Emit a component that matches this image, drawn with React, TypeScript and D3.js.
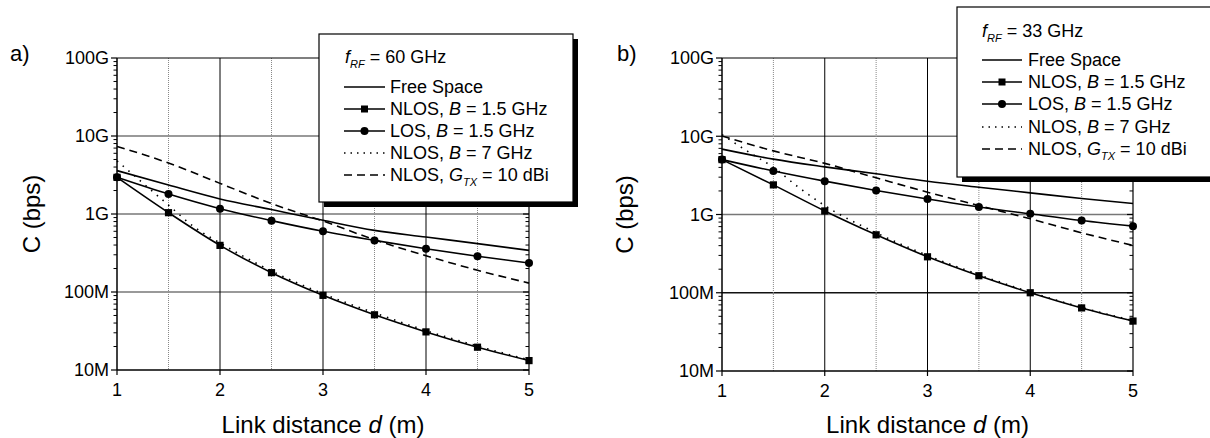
import React from "react";
import * as d3 from "d3";

// ---------- DATA ----------
const distances = [1, 1.5, 2, 2.5, 3, 3.5, 4, 4.5, 5];
const denseDistances = [1, 1.25, 1.5, 1.75, 2, 2.5, 3, 3.5, 4, 4.5, 5];
const xTicks = [1, 2, 3, 4, 5];
const xMinorTicks = [1.5, 2.5, 3.5, 4.5];
const yTicks = [1e7, 1e8, 1e9, 1e10, 1e11];
const yTickLabels = ["10M", "100M", "1G", "10G", "100G"];

// Panel a) fRF = 60 GHz
const freeSpaceA = [3.6e9, 2.35e9, 1.56e9, 1.14e9, 0.83e9, 0.617e9, 0.507e9, 0.417e9, 0.342e9];
const nlosA = [2.95e9, 1.04e9, 0.396e9, 0.177e9, 0.0906e9, 0.051e9, 0.0308e9, 0.0196e9, 0.0132e9];
const losA = [2.95e9, 1.8e9, 1.17e9, 0.822e9, 0.6e9, 0.459e9, 0.359e9, 0.287e9, 0.235e9];
const nlos7A = [4.8e9, 2.5e9, 1.3e9, 0.68e9, 0.425e9, 0.186e9, 0.095e9, 0.054e9, 0.032e9, 0.0203e9, 0.0135e9];
const nlosGtxA = [7.35e9, 4.5e9, 2.47e9, 1.36e9, 0.813e9, 0.468e9, 0.292e9, 0.19e9, 0.13e9];

// Panel b) fRF = 33 GHz
const freeSpaceB = [6.85e9, 5.1e9, 4.06e9, 3.31e9, 2.66e9, 2.23e9, 1.89e9, 1.6e9, 1.38e9];
const nlosB = [5.03e9, 2.39e9, 1.11e9, 0.55e9, 0.288e9, 0.165e9, 0.1e9, 0.064e9, 0.0435e9];
const losB = [5.03e9, 3.6e9, 2.67e9, 2.03e9, 1.58e9, 1.25e9, 1.02e9, 0.838e9, 0.71e9];
const nlos7B = [10.5e9, 6.4e9, 4.0e9, 2.2e9, 1.3e9, 0.584e9, 0.3e9, 0.17e9, 0.102e9, 0.065e9, 0.044e9];
const nlosGtxB = [10.1e9, 6.5e9, 4.5e9, 2.94e9, 1.93e9, 1.3e9, 0.88e9, 0.584e9, 0.402e9];

const FONT = "'Liberation Sans', Arial, Helvetica, sans-serif";

type PanelProps = {
  label: string;
  freq: string;
  left: number; right: number; top: number; bottom: number;
  free: number[]; nlos: number[]; los: number[]; nlos7: number[]; gtx: number[];
  legend: { x: number; y: number; w: number; h: number; tx: number; ty: number; lx1: number; lx2: number; textX: number; rows: number[] };
  labelX: number; yTitleX: number; hundredMBlack: boolean;
};

function Panel(p: PanelProps) {
  const x = d3.scaleLinear().domain([1, 5]).range([p.left, p.right]);
  const y = d3.scaleLog().domain([1e7, 1e11]).range([p.bottom, p.top]);
  const line = d3.line<[number, number]>().x(d => x(d[0])).y(d => y(d[1])).curve(d3.curveMonotoneX);
  const pts = (xs: number[], vs: number[]) => xs.map((d, i) => [d, vs[i]] as [number, number]);

  const minorY: number[] = [];
  for (let e = 7; e < 11; e++) for (let m = 2; m <= 9; m++) minorY.push(m * Math.pow(10, e));

  const L = p.legend;
  const sampleMid = (L.lx1 + L.lx2) / 2;
  return (
    <g fontFamily={FONT} fill="#000">
      {/* horizontal grid */}
      {yTicks.slice(1, 4).map((t, i) => (
        <line key={"hg" + i} x1={p.left} x2={p.right} y1={y(t)} y2={y(t)}
          stroke={p.hundredMBlack && t === 1e8 ? "#111" : "#777"} strokeWidth={1.3} />
      ))}
      {/* vertical grid */}
      {xMinorTicks.map((t, i) => (
        <line key={"vm" + i} x1={x(t)} x2={x(t)} y1={p.top} y2={p.bottom} stroke="#888" strokeWidth={1} strokeDasharray="1,1" />
      ))}
      {xTicks.slice(1, 4).map((t, i) => (
        <line key={"vg" + i} x1={x(t)} x2={x(t)} y1={p.top} y2={p.bottom} stroke="#000" strokeWidth={1} />
      ))}
      {/* frame */}
      <line x1={p.left} x2={p.right} y1={p.top} y2={p.top} stroke="#000" strokeWidth={1.2} />
      <line x1={p.right} x2={p.right} y1={p.top} y2={p.bottom} stroke="#000" strokeWidth={1.2} />
      <line x1={p.left} x2={p.left} y1={p.top} y2={p.bottom} stroke="#000" strokeWidth={1.5} />
      <line x1={p.left} x2={p.right} y1={p.bottom} y2={p.bottom} stroke="#000" strokeWidth={1.5} />
      {/* y ticks */}
      {yTicks.map((t, i) => (
        <g key={"yt" + i}>
          <line x1={p.left - 6} x2={p.left} y1={y(t)} y2={y(t)} stroke="#000" strokeWidth={1.2} />
          <line x1={p.right - 6} x2={p.right} y1={y(t)} y2={y(t)} stroke="#000" strokeWidth={1.2} />
          <text x={p.left - 8} y={y(t)} dy="0.36em" textAnchor="end" fontSize={18}>{yTickLabels[i]}</text>
        </g>
      ))}
      {minorY.map((t, i) => (
        <g key={"ym" + i}>
          <line x1={p.left - 3.5} x2={p.left} y1={y(t)} y2={y(t)} stroke="#000" strokeWidth={1} />
          <line x1={p.right - 3.5} x2={p.right} y1={y(t)} y2={y(t)} stroke="#000" strokeWidth={1} />
        </g>
      ))}
      {/* x ticks */}
      {xTicks.map((t, i) => (
        <g key={"xt" + i}>
          <line x1={x(t)} x2={x(t)} y1={p.bottom} y2={p.bottom + 5} stroke="#000" strokeWidth={1.2} />
          <text x={x(t)} y={p.bottom + 26} textAnchor="middle" fontSize={18}>{t}</text>
        </g>
      ))}
      {/* axis titles */}
      <text x={(p.left + p.right) / 2} y={433} textAnchor="middle" fontSize={24}>
        Link distance <tspan fontStyle="italic">d</tspan> (m)
      </text>
      <text transform={`translate(${p.yTitleX},${(p.top + p.bottom) / 2}) rotate(-90)`} textAnchor="middle" fontSize={24}>C (bps)</text>
      <text x={p.labelX} y={61} fontSize={22}>{p.label}</text>

      {/* data */}
      <path d={line(pts(distances, p.free)) || ""} fill="none" stroke="#000" strokeWidth={1.6} />
      <path d={line(pts(distances, p.los)) || ""} fill="none" stroke="#000" strokeWidth={1.6} />
      <path d={line(pts(distances, p.nlos)) || ""} fill="none" stroke="#000" strokeWidth={1.6} />
      <path d={line(pts(denseDistances, p.nlos7)) || ""} fill="none" stroke="#000" strokeWidth={1.6} strokeDasharray="1.5,6" />
      <path d={line(pts(distances, p.gtx)) || ""} fill="none" stroke="#000" strokeWidth={1.6} strokeDasharray="8,5" />
      {distances.map((d, i) => (
        <circle key={"c" + i} cx={x(d)} cy={y(p.los[i])} r={4} fill="#000" />
      ))}
      {distances.map((d, i) => (
        <rect key={"s" + i} x={x(d) - 3.6} y={y(p.nlos[i]) - 3.6} width={7.2} height={7.2} fill="#000" />
      ))}

      {/* legend */}
      <rect x={L.x + 5} y={L.y + 5} width={L.w} height={L.h} fill="#000" />
      <rect x={L.x} y={L.y} width={L.w} height={L.h} fill="#fff" stroke="#000" strokeWidth={1.2} />
      <text x={L.tx} y={L.ty} fontSize={18}>
        <tspan fontStyle="italic">f</tspan>
        <tspan fontStyle="italic" fontSize={11} dy={5}>RF</tspan>
        <tspan dy={-5}> = {p.freq}</tspan>
      </text>
      {/* row 0: free space */}
      <line x1={L.lx1} x2={L.lx2} y1={L.rows[0] - 6} y2={L.rows[0] - 6} stroke="#000" strokeWidth={1.5} />
      <text x={L.textX} y={L.rows[0]} fontSize={18}>Free Space</text>
      {/* row 1: NLOS squares */}
      <line x1={L.lx1} x2={L.lx2} y1={L.rows[1] - 6} y2={L.rows[1] - 6} stroke="#000" strokeWidth={1.5} />
      <rect x={sampleMid - 3.5} y={L.rows[1] - 9.5} width={7} height={7} fill="#000" />
      <text x={L.textX} y={L.rows[1]} fontSize={18}>NLOS, <tspan fontStyle="italic">B</tspan> = 1.5 GHz</text>
      {/* row 2: LOS circles */}
      <line x1={L.lx1} x2={L.lx2} y1={L.rows[2] - 6} y2={L.rows[2] - 6} stroke="#000" strokeWidth={1.5} />
      <circle cx={sampleMid} cy={L.rows[2] - 6} r={4} fill="#000" />
      <text x={L.textX} y={L.rows[2]} fontSize={18}>LOS, <tspan fontStyle="italic">B</tspan> = 1.5 GHz</text>
      {/* row 3: dotted */}
      <line x1={L.lx1} x2={L.lx2} y1={L.rows[3] - 6} y2={L.rows[3] - 6} stroke="#000" strokeWidth={1.5} strokeDasharray="1.5,5" />
      <text x={L.textX} y={L.rows[3]} fontSize={18}>NLOS, <tspan fontStyle="italic">B</tspan> = 7 GHz</text>
      {/* row 4: dashed */}
      <line x1={L.lx1} x2={L.lx2} y1={L.rows[4] - 6} y2={L.rows[4] - 6} stroke="#000" strokeWidth={1.5} strokeDasharray="8,5" />
      <text x={L.textX} y={L.rows[4]} fontSize={18}>
        NLOS, <tspan fontStyle="italic">G</tspan>
        <tspan fontStyle="italic" fontSize={11} dy={5}>TX</tspan>
        <tspan dy={-5}> = 10 dBi</tspan>
      </text>
    </g>
  );
}

export default function App() {
  return (
    <div style={{ position: "absolute", left: 0, top: 0 }}>
      <svg width={1210} height={438} style={{ display: "block", background: "#fff" }}>
        <Panel
          label="a)" freq="60 GHz" left={117} right={529} top={58} bottom={370}
          free={freeSpaceA} nlos={nlosA} los={losA} nlos7={nlos7A} gtx={nlosGtxA}
          legend={{ x: 319, y: 34, w: 254, h: 168, tx: 345, ty: 63, lx1: 344, lx2: 385, textX: 390, rows: [93, 115, 137, 159, 181] }}
          labelX={10} yTitleX={40} hundredMBlack={false}
        />
        <Panel
          label="b)" freq="33 GHz" left={722} right={1133} top={58} bottom={371}
          free={freeSpaceB} nlos={nlosB} los={losB} nlos7={nlos7B} gtx={nlosGtxB}
          legend={{ x: 957, y: 7, w: 280, h: 170, tx: 982, ty: 37, lx1: 982, lx2: 1022, textX: 1028, rows: [66, 88, 110, 133, 155] }}
          labelX={617} yTitleX={633} hundredMBlack={true}
        />
      </svg>
    </div>
  );
}
